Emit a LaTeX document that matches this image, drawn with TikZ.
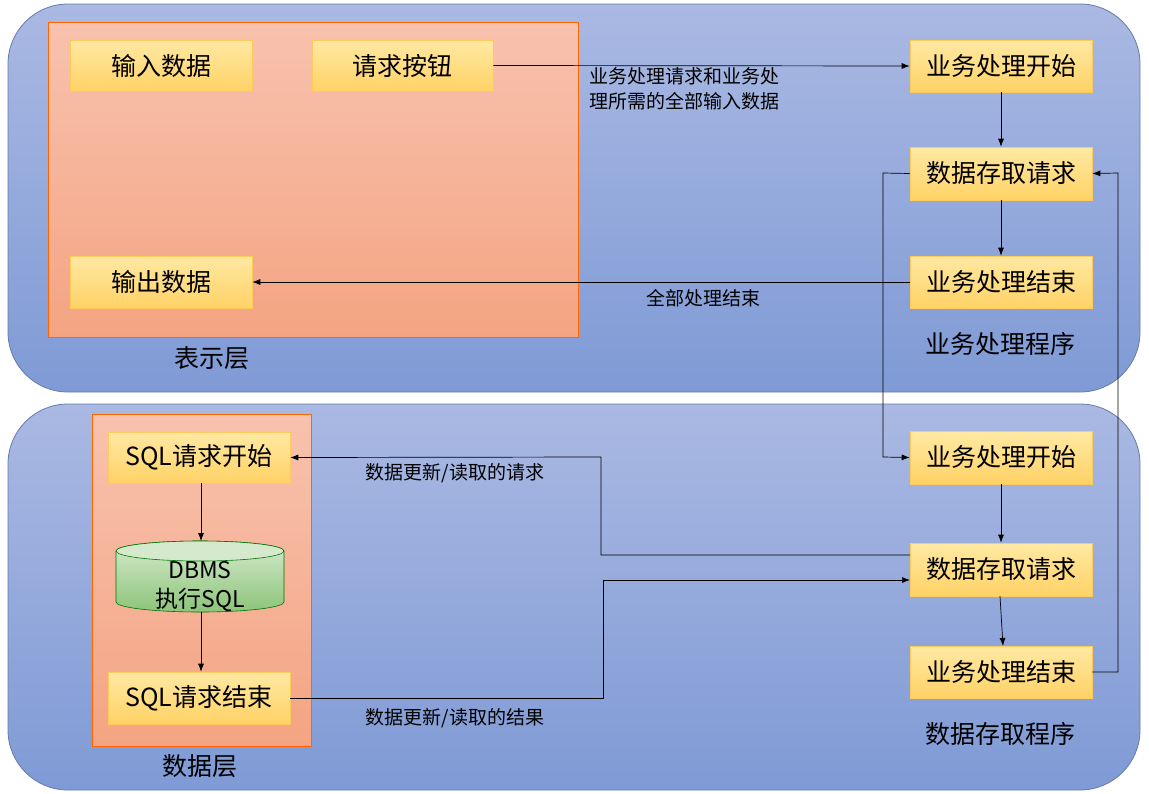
\documentclass[tikz,border=0pt]{standalone}
\usepackage{fontspec}
\setmainfont{Noto Sans CJK SC}
\usetikzlibrary{arrows.meta}
\definecolor{panT}{HTML}{AAB9E3}\definecolor{panB}{HTML}{7F9AD5}
\definecolor{salT}{HTML}{F8C2AE}\definecolor{salB}{HTML}{F4A482}
\definecolor{ylT}{HTML}{FFE9A3}\definecolor{ylB}{HTML}{FFD266}
\definecolor{grT}{HTML}{D5EACD}\definecolor{grB}{HTML}{8CC47A}
\tikzset{
 panel/.style={draw=panB!80!black,rounded corners=60pt,top color=panT,bottom color=panB,line width=0.8pt},
 layer/.style={draw=orange!80!red,top color=salT,bottom color=salB,line width=0.6pt},
 ybox/.style={draw=ylB!90!orange,top color=ylT,bottom color=ylB,line width=0.6pt,inner sep=0pt},
 lab/.style={font=\fontsize{19}{25}\selectfont,align=left},
 big/.style={font=\fontsize{25}{28}\selectfont},
 arr/.style={-{Latex[length=8pt,width=6pt]},line width=0.7pt}
}
\begin{document}
\begin{tikzpicture}[x=1pt,y=-1pt]
\useasboundingbox (0,0) rectangle (1149,793);
\draw[panel] (8,4) rectangle (1140,392);
\draw[panel] (8,404) rectangle (1140,790);
\draw[layer] (48,22) rectangle (578,337);
\draw[layer] (92,414) rectangle (311,746);
\newcommand\yb[5]{\node[ybox,minimum width=#3-#2,minimum height=#5-#4] (#1) at ({(#2+#3)/2},{(#4+#5)/2}) {};}
\yb{in}{70}{252}{40}{91}\node[big] at (in) {输入数据};
\yb{btn}{312}{493}{40}{91}\node[big] at (btn) {请求按钮};
\yb{out}{70}{252}{256}{308}\node[big] at (out) {输出数据};
\yb{s1}{910}{1092}{40}{92}\node[big] at (s1) {业务处理开始};
\yb{r1}{910}{1092}{147}{200}\node[big] at (r1) {数据存取请求};
\yb{e1}{910}{1092}{256}{308}\node[big] at (e1) {业务处理结束};
\yb{s2}{910}{1092}{431}{484}\node[big] at (s2) {业务处理开始};
\yb{r2}{910}{1092}{543}{596}\node[big] at (r2) {数据存取请求};
\yb{e2}{910}{1092}{646}{698}\node[big] at (e2) {业务处理结束};
\yb{qs}{108}{290}{432}{483}\node[big] at (qs) {SQL请求开始};
\yb{qe}{108}{290}{672}{724}\node[big] at (qe) {SQL请求结束};
\draw[draw=green!45!black,top color=grT,bottom color=grB,line width=0.6pt]
 (116,551) -- (116,602) arc[start angle=180,end angle=0,x radius=84,y radius=10] -- (284,551) arc[start angle=0,end angle=-180,x radius=84,y radius=10] -- cycle;
\draw[draw=green!45!black,fill=grT,line width=0.6pt] (200,551) ellipse[x radius=84,y radius=10];
\coordinate (dbt) at (201,541);
\coordinate (dbb) at (201,612);
\node[big,align=center,font=\fontsize{23}{29}\selectfont] at (200,587) {DBMS\\执行SQL};
\node[big] at (1000,344) {业务处理程序};
\node[big] at (212,358) {表示层};
\node[big] at (1000,734) {数据存取程序};
\node[big] at (200,766) {数据层};
\draw[arr] (btn.east) -- (s1.west);
\node[lab,anchor=north west] at (586,64) {业务处理请求和业务处\\理所需的全部输入数据};
\draw[arr] (s1) -- (r1);
\draw[arr] (r1) -- (e1);
\draw[arr] (e1.west) -- (out.east);
\node[lab] at (703,298) {全部处理结束};
\draw[arr] (r1.west) -- (883,173) -- (883,457) -- (s2.west);
\draw[arr] (e2.east) -- (1118,672) -- (1118,173) -- (r1.east);
\draw[arr] (s2) -- (r2);
\draw[arr] (1000,596) -- (1003,646);
\draw[arr] (910,555) -- (601,555) -- (601,457) -- (qs.east);
\node[lab] at (455,473) {数据更新/读取的请求};
\draw[arr] (qe.east) -- (603,698) -- (603,580) -- (910,580);
\node[lab] at (455,718) {数据更新/读取的结果};
\draw[arr] (qs.south -| dbt) -- (dbt);
\draw[arr] (dbb) -- (qe.north -| dbb);
\end{tikzpicture}
\end{document}
